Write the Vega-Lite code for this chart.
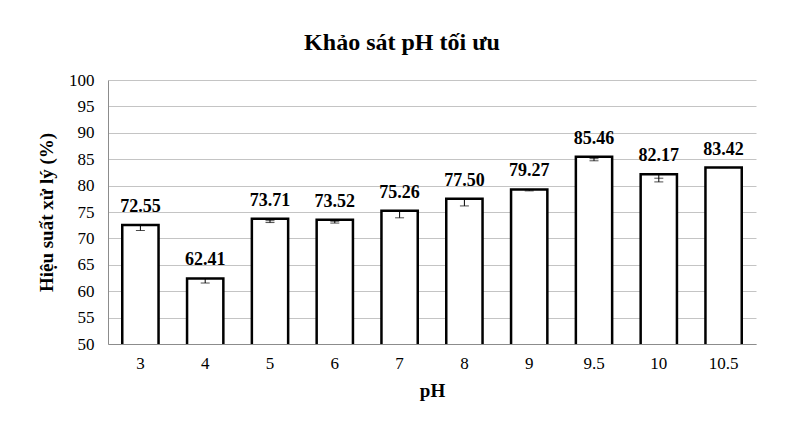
{
  "$schema": "https://vega.github.io/schema/vega-lite/v6.json",
  "width": 648,
  "height": 264,
  "autosize": "none",
  "padding": {"left": 108, "top": 80, "right": 41, "bottom": 98},
  "background": "white",
  "title": {
    "text": "Khảo sát pH tối ưu",
    "font": "Liberation Serif",
    "fontSize": 24,
    "fontWeight": "bold",
    "color": "black",
    "anchor": "middle",
    "dx": -30,
    "offset": 16
  },
  "data": {
    "values": [
      {"pH": "3", "value": 72.55, "lo": 71.5, "hi": 72.55},
      {"pH": "4", "value": 62.41, "lo": 61.55, "hi": 62.41},
      {"pH": "5", "value": 73.71, "lo": 73.0, "hi": 73.35},
      {"pH": "6", "value": 73.52, "lo": 72.9, "hi": 73.25},
      {"pH": "7", "value": 75.26, "lo": 73.9, "hi": 75.26},
      {"pH": "8", "value": 77.50, "lo": 76.15, "hi": 77.50},
      {"pH": "9", "value": 79.27, "lo": 79.0, "hi": 79.27},
      {"pH": "9.5", "value": 85.46, "lo": 84.7, "hi": 85.1},
      {"pH": "10", "value": 82.17, "lo": 80.7, "hi": 81.4},
      {"pH": "10.5", "value": 83.42, "lo": 83.42, "hi": 83.42}
    ]
  },
  "encoding": {
    "x": {
      "field": "pH",
      "type": "nominal",
      "sort": null,
      "scale": {"paddingInner": 0.44, "paddingOuter": 0.22},
      "axis": {"title": "pH", "labelAngle": 0}
    }
  },
  "layer": [
    {
      "mark": {"type": "bar", "fill": "white", "stroke": "black", "strokeWidth": 2.5, "clip": true},
      "encoding": {
        "y": {
          "field": "value",
          "type": "quantitative",
          "scale": {"domain": [50, 100], "zero": false, "nice": false},
          "axis": {"title": "Hiệu suất xử lý (%)"}
        }
      }
    },
    {
      "mark": {"type": "rule", "color": "black", "strokeWidth": 1},
      "encoding": {
        "y": {"field": "lo", "type": "quantitative", "axis": {"title": "Hiệu suất xử lý (%)"}},
        "y2": {"field": "value"}
      }
    },
    {
      "mark": {"type": "tick", "color": "black", "thickness": 1, "size": 9, "orient": "horizontal"},
      "encoding": {"y": {"field": "lo", "type": "quantitative", "axis": {"title": "Hiệu suất xử lý (%)"}}}
    },
    {
      "mark": {"type": "tick", "color": "black", "thickness": 1, "size": 9, "orient": "horizontal"},
      "encoding": {"y": {"field": "hi", "type": "quantitative", "axis": {"title": "Hiệu suất xử lý (%)"}}}
    },
    {
      "mark": {"type": "text", "font": "Liberation Serif", "fontSize": 18, "fontWeight": "bold", "color": "black", "baseline": "alphabetic", "dy": -13},
      "encoding": {
        "y": {"field": "value", "type": "quantitative", "axis": {"title": "Hiệu suất xử lý (%)"}},
        "text": {"field": "value", "type": "quantitative", "format": ".2f"}
      }
    }
  ],
  "config": {
    "view": {"stroke": null},
    "axisX": {
      "titleFont": "Liberation Serif",
      "titleFontSize": 19,
      "titleFontWeight": "bold",
      "titleColor": "black",
      "titlePadding": 10,
      "labelFont": "Liberation Serif",
      "labelFontSize": 17,
      "labelColor": "black",
      "labelPadding": 11,
      "ticks": false,
      "domainColor": "#8c8c8c",
      "domainWidth": 1
    },
    "axisY": {
      "titleFont": "Liberation Serif",
      "titleFontSize": 19,
      "titleFontWeight": "bold",
      "titleColor": "black",
      "titlePadding": 12,
      "tickCount": 10,
      "labelOverlap": false,
      "labelFont": "Liberation Serif",
      "labelFontSize": 17,
      "labelColor": "black",
      "labelPadding": 14,
      "ticks": false,
      "grid": true,
      "gridColor": "#c4c4c4",
      "gridWidth": 1,
      "domain": true,
      "domainColor": "#8c8c8c",
      "domainWidth": 1
    }
  }
}
